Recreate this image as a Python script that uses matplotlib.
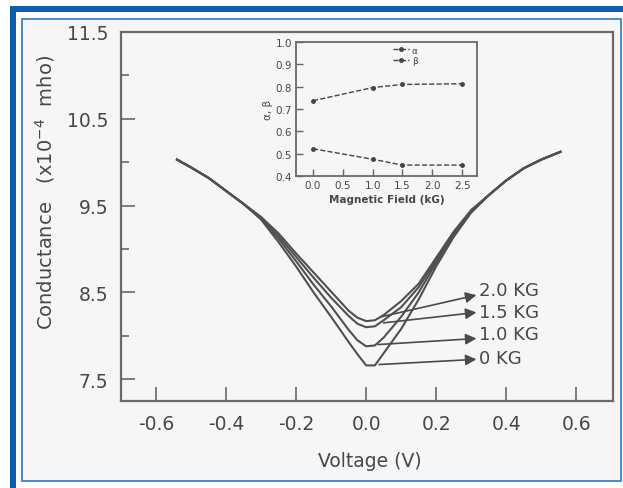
import numpy as np
import matplotlib.pyplot as plt
from matplotlib.patches import Rectangle

# Conductance vs voltage
volt = [-0.54, -0.5, -0.45, -0.4, -0.35, -0.3, -0.25, -0.2, -0.15, -0.1, -0.05, -0.025,
        0.0, 0.025, 0.05, 0.1, 0.15, 0.2, 0.25, 0.3, 0.35, 0.4, 0.45, 0.5, 0.555]
g_0kg = [10.03, 9.94, 9.82, 9.67, 9.52, 9.34, 9.08, 8.80, 8.50, 8.22, 7.93, 7.79,
         7.66, 7.66, 7.80, 8.08, 8.42, 8.80, 9.14, 9.42, 9.62, 9.79, 9.93, 10.03, 10.12]
g_1kg = [10.03, 9.94, 9.82, 9.67, 9.52, 9.35, 9.12, 8.86, 8.59, 8.34, 8.07, 7.95,
         7.88, 7.89, 7.98, 8.22, 8.50, 8.84, 9.16, 9.43, 9.62, 9.79, 9.93, 10.03, 10.12]
g_15kg = [10.03, 9.94, 9.82, 9.67, 9.52, 9.36, 9.15, 8.91, 8.67, 8.44, 8.23, 8.14,
          8.10, 8.11, 8.18, 8.33, 8.56, 8.87, 9.18, 9.44, 9.62, 9.79, 9.93, 10.03, 10.12]
g_2kg = [10.03, 9.94, 9.82, 9.67, 9.52, 9.37, 9.18, 8.95, 8.73, 8.51, 8.29, 8.21,
         8.17, 8.18, 8.24, 8.40, 8.60, 8.90, 9.20, 9.45, 9.62, 9.79, 9.93, 10.03, 10.12]

curve_labels = ['2.0 KG', '1.5 KG', '1.0 KG', '0 KG']
label_y = [8.53, 8.27, 8.02, 7.75]
arrow_tail = [(0.043, 8.22), (0.05, 8.15), (0.034, 7.90), (0.037, 7.67)]
arrow_head_y = [8.47, 8.27, 7.97, 7.73]

# inset: alpha, beta vs magnetic field
field = [0.0, 1.0, 1.5, 2.5]
alpha = [0.737, 0.796, 0.81, 0.813]
beta = [0.522, 0.475, 0.449, 0.449]

ink = '#474747'
blue = '#0b5fa8'

fig = plt.figure(figsize=(6.23, 4.89), dpi=100)
fig.patch.set_facecolor('white')

# blue frame around the scan
fig.patches.append(Rectangle((21.5 / 623, 1 - 482 / 489), 599.5 / 623, 462.5 / 489,
                             transform=fig.transFigure, facecolor='#f6f6f6',
                             edgecolor='#3b82c4', lw=1.3, zorder=-5))
fig.patches.append(Rectangle((10 / 623, 1 - 13 / 489), 613 / 623, 6 / 489,
                             transform=fig.transFigure, facecolor=blue, lw=0, zorder=-5))
fig.patches.append(Rectangle((10 / 623, 0), 6 / 623, 1 - 7 / 489,
                             transform=fig.transFigure, facecolor=blue, lw=0, zorder=-5))

ax = fig.add_axes([121 / 623, 1 - 402 / 489, 492 / 623, 369 / 489])
ax.set_facecolor('none')
for g in (g_0kg, g_1kg, g_15kg, g_2kg):
    ax.plot(volt, g, color='#505050', lw=1.5)

for lab, ly, tail, hy in zip(curve_labels, label_y, arrow_tail, arrow_head_y):
    ax.annotate('', xy=(0.315, hy), xytext=tail,
                arrowprops=dict(arrowstyle='-|>', color='#4a4a4a', lw=1.2,
                                mutation_scale=16, shrinkA=0, shrinkB=0))
    ax.text(0.322, ly, lab, fontsize=13, color=ink, va='center', ha='left')

ax.set_xlim(-0.7, 0.705)
ax.set_ylim(7.25, 11.5)
ax.set_xticks([-0.6, -0.4, -0.2, 0.0, 0.2, 0.4, 0.6])
ax.set_xticklabels(['-0.6', '-0.4', '-0.2', '0.0', '0.2', '0.4', '0.6'])
ax.set_yticks([7.5, 8.5, 9.5, 10.5, 11.5])
ax.set_yticks([8.0, 9.0, 10.0, 11.0], minor=True)
ax.tick_params(direction='in', length=10, width=1.2, colors='#666666',
               labelcolor=ink, labelsize=13.5, pad=9)
ax.tick_params(which='minor', direction='in', length=6, width=1.2, colors='#666666')
for s in ax.spines.values():
    s.set_color('#6a6a6a')
    s.set_linewidth(1.6)

fig.text(45 / 623, 1 - 192 / 489, 'Conductance   (x10$^{-4}$  mho)', rotation=90,
         ha='center', va='center', fontsize=14, color=ink)
fig.text(370 / 623, 1 - 462 / 489, 'Voltage (V)', ha='center', va='center',
         fontsize=13.5, color=ink)

# inset
ax_in = fig.add_axes([296 / 623, 1 - 177 / 489, 181 / 623, 134 / 489])
ax_in.set_facecolor('none')
ax_in.plot(field, alpha, ls='--', color='#444444', lw=1.0, marker='o', ms=2.5, label='α')
ax_in.plot(field, beta, ls='--', color='#444444', lw=1.0, marker='o', ms=2.5, label='β')
ax_in.set_xlim(-0.285, 2.75)
ax_in.set_ylim(0.41, 1.0)
ax_in.set_xticks([0.0, 0.5, 1.0, 1.5, 2.0, 2.5])
ax_in.set_yticks([0.4, 0.5, 0.6, 0.7, 0.8, 0.9, 1.0])
ax_in.tick_params(direction='in', length=5, width=1, colors='#666666',
                  labelcolor=ink, labelsize=7.5, pad=3)
for s in ax_in.spines.values():
    s.set_color('#6a6a6a')
    s.set_linewidth(1.3)
ax_in.set_xlabel('Magnetic Field (kG)', fontsize=7.5, color=ink, fontweight='bold', labelpad=3)
ax_in.set_ylabel('α, β', fontsize=7.5, color=ink, labelpad=2)
ax_in.legend(loc='upper left', bbox_to_anchor=(0.5, 1.02), frameon=False, fontsize=6.5,
             handlelength=1.8, handletextpad=0.3, labelspacing=0.2, borderpad=0.2,
             labelcolor=ink)

fig.savefig('out.png', dpi=100)
